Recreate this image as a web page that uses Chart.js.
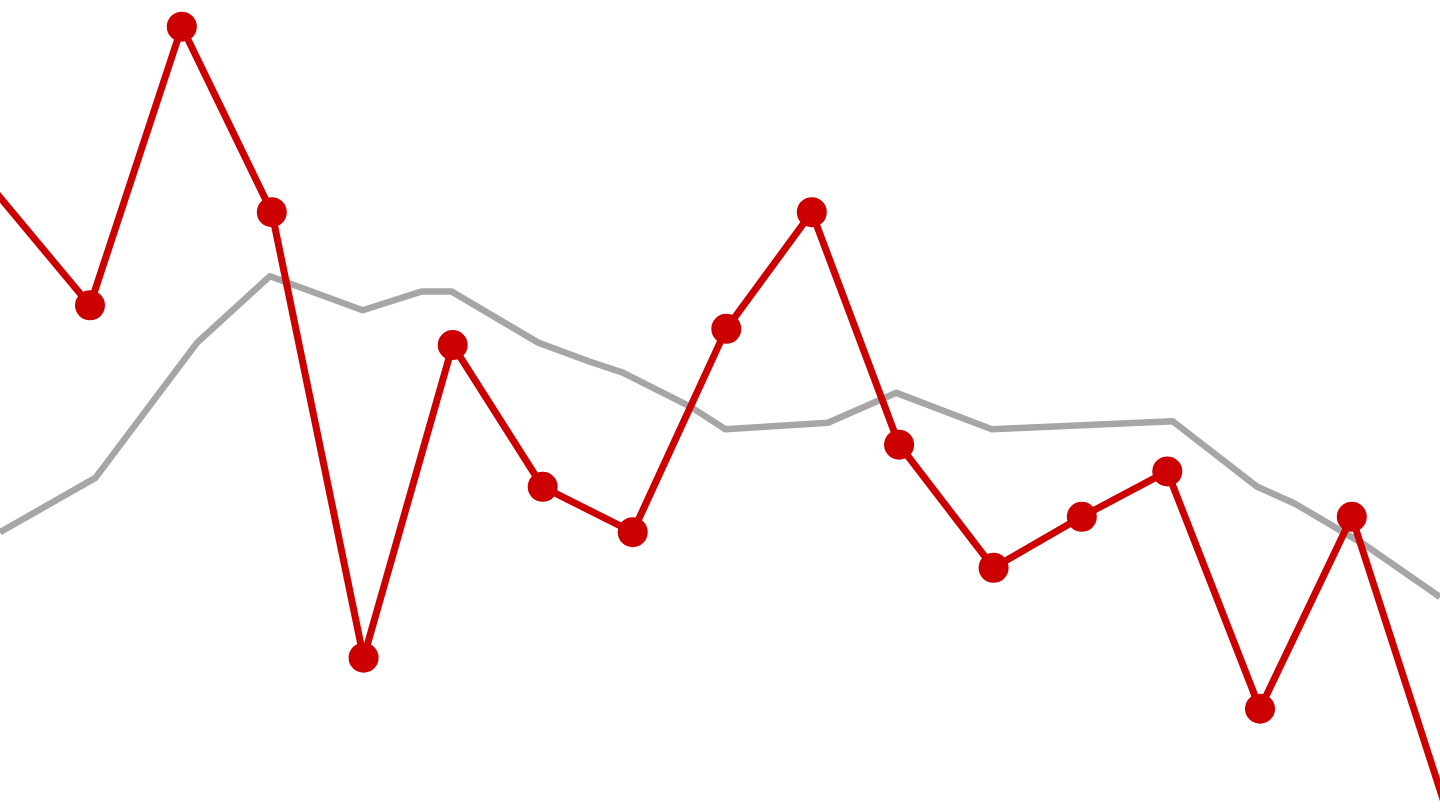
<!DOCTYPE html>
<html>
<head>
<meta charset="utf-8">
<title>Chart</title>
<script src="https://cdn.jsdelivr.net/npm/chart.js@4"></script>
<style>
    html, body { margin: 0; padding: 0; background: #ffffff; overflow: hidden; }
    #wrap { position: relative; width: 1440px; height: 810px; }
</style>
</head>
<body>
<div id="wrap"><canvas id="myChart"></canvas></div>
<script>
// Red series (with markers). First and last points sit just outside the view.
const redX = [-0.5, 1.0, 2.02, 3.02, 4.04, 5.03, 6.03, 7.03, 8.07, 9.02, 9.99, 11.04, 12.02, 12.97, 14.0, 15.02, 16.5];
const redY = [82.3, 62.3, 96.7, 73.8, 18.8, 57.4, 39.9, 34.3, 59.4, 73.8, 45.1, 29.9, 36.2, 41.8, 12.5, 36.2, -14.7];

// Grey series (plain line)
const greyX = [0, 1.06, 2.19, 3.0, 4.03, 4.68, 5.02, 5.98, 6.54, 6.92, 7.67, 8.06, 9.2, 9.96, 11.02, 13.03, 13.97, 14.39, 15.17, 16.0];
const greyY = [34.3, 41.0, 57.7, 65.9, 61.7, 64.0, 64.0, 57.7, 55.4, 54.0, 49.8, 47.0, 47.8, 51.5, 47.0, 48.0, 39.9, 37.8, 32.7, 26.3];

function toPoints(xs, ys) {
    return xs.map(function (x, i) { return { x: x, y: ys[i] }; });
}

var ctx = document.getElementById('myChart').getContext('2d');
var myChart = new Chart(ctx, {
    type: 'line',
    data: {
        datasets: [{
            data: toPoints(redX, redY),
            borderColor: '#cc0000',
            backgroundColor: '#cc0000',
            borderWidth: 7,
            borderJoinStyle: 'round',
            pointRadius: 15,
            pointBorderWidth: 0,
            pointBackgroundColor: '#cc0000',
            tension: 0,
            order: 0
        }, {
            data: toPoints(greyX, greyY),
            borderColor: '#a6a6a6',
            borderWidth: 6.5,
            borderJoinStyle: 'round',
            pointRadius: 0,
            tension: 0,
            order: 1
        }]
    },
    options: {
        responsive: true,
        maintainAspectRatio: false,
        animation: false,
        layout: { padding: 0, autoPadding: false },
        plugins: {
            legend: { display: false },
            tooltip: { enabled: false }
        },
        scales: {
            x: { type: 'linear', min: 0, max: 16, display: false },
            y: { min: 0, max: 100, display: false }
        }
    }
});
</script>
</body>
</html>
